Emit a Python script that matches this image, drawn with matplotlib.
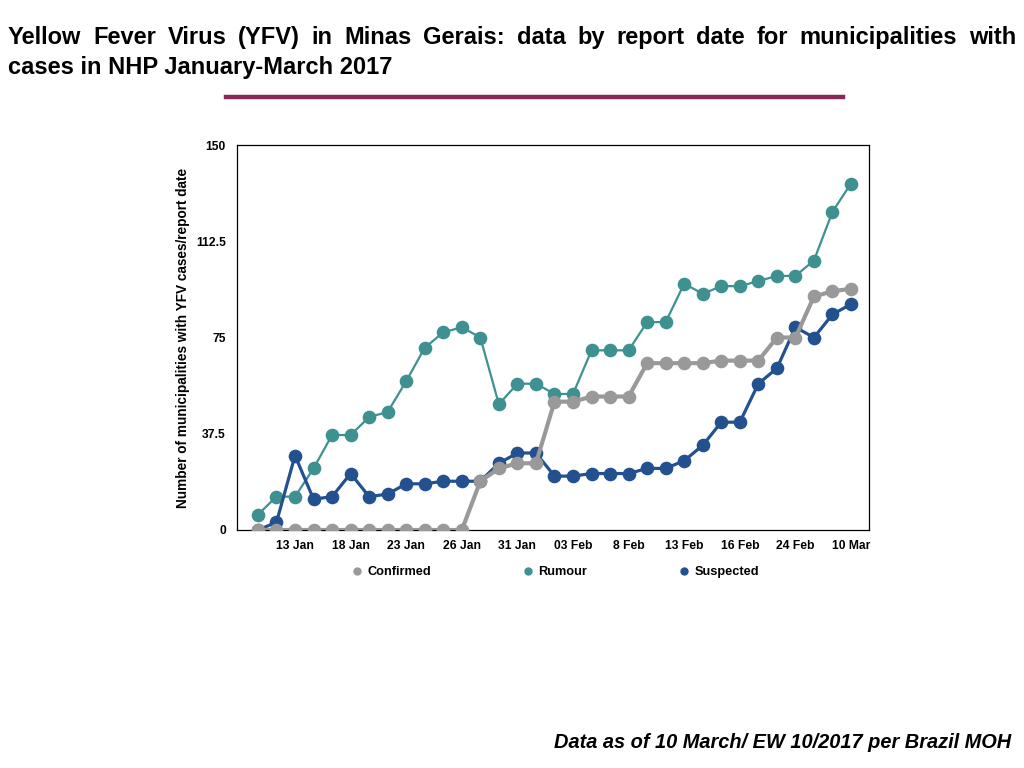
import matplotlib
matplotlib.use("Agg")
import matplotlib.pyplot as plt
from matplotlib.lines import Line2D

plt.rcParams['font.family'] = ['Liberation Sans', 'DejaVu Sans']

dates = ["11 Jan", "12 Jan", "13 Jan", "16 Jan", "17 Jan", "18 Jan", "19 Jan", "20 Jan", "23 Jan",
         "24 Jan", "25 Jan", "26 Jan", "27 Jan", "30 Jan", "31 Jan", "01 Feb", "02 Feb", "03 Feb",
         "06 Feb", "07 Feb", "8 Feb", "9 Feb", "10 Feb", "13 Feb", "14 Feb", "15 Feb", "16 Feb",
         "17 Feb", "21 Feb", "24 Feb", "03 Mar", "08 Mar", "10 Mar"]
shown_labels = ["13 Jan", "18 Jan", "23 Jan", "26 Jan", "31 Jan", "03 Feb", "8 Feb",
                "13 Feb", "16 Feb", "24 Feb", "10 Mar"]

confirmed = [0, 0, 0, 0, 0, 0, 0, 0, 0, 0, 0, 0, 19, 24, 26, 26, 50, 50, 52, 52, 52,
             65, 65, 65, 65, 66, 66, 66, 75, 75, 91, 93, 94]
rumour = [6, 13, 13, 24, 37, 37, 44, 46, 58, 71, 77, 79, 75, 49, 57, 57, 53, 53, 70, 70, 70,
          81, 81, 96, 92, 95, 95, 97, 99, 99, 105, 124, 135]
suspected = [0, 3, 29, 12, 13, 22, 13, 14, 18, 18, 19, 19, 19, 26, 30, 30, 21, 21, 22, 22, 22,
             24, 24, 27, 33, 42, 42, 57, 63, 79, 75, 84, 88]

yticks = [0, 37.5, 75, 112.5, 150]

c_conf = "#999999"
c_rum = "#3E9190"
c_sus = "#23518F"

W, H = 1024, 768
fig = plt.figure(figsize=(W / 100, H / 100), dpi=100)
ax = fig.add_axes([237 / W, (H - 530) / H, 632 / W, 385 / H])

x = list(range(len(dates)))
ax.plot(x, rumour, color=c_rum, lw=1.6, marker='o', ms=8.8, zorder=2)
ax.plot(x, suspected, color=c_sus, lw=2.3, marker='o', ms=8.8, zorder=3)
ax.plot(x, confirmed, color=c_conf, lw=3.0, marker='o', ms=8.8, zorder=4)

ax.set_xlim(-1.13, len(dates) - 1 + 0.97)
ax.set_ylim(0, 150)
ax.set_yticks(yticks)
ax.set_yticklabels(["0", "37.5", "75", "112.5", "150"], fontsize=8.7, fontweight='bold')
pos = [dates.index(l) for l in shown_labels]
ax.set_xticks(pos)
ax.set_xticklabels(shown_labels, fontsize=8.7, fontweight='bold')
ax.tick_params(axis='y', length=0, pad=8)
ax.tick_params(axis='x', length=0, pad=7)
for sp in ax.spines.values():
    sp.set_linewidth(0.9)
ax.set_ylabel("Number of municipalities with YFV cases/report date", fontsize=9.8,
              fontweight='bold', labelpad=4)

handles = [Line2D([], [], color=c_conf, marker='o', ls='none', ms=5),
           Line2D([], [], color=c_rum, marker='o', ls='none', ms=5),
           Line2D([], [], color=c_sus, marker='o', ls='none', ms=5)]
leg = fig.legend(handles, ["Confirmed", "Rumour", "Suspected"], loc='center',
                 bbox_to_anchor=(555 / W, (H - 572) / H), ncol=3, frameon=False,
                 prop={'weight': 'bold', 'size': 9.2}, columnspacing=7.1,
                 handletextpad=0.3, handlelength=1.0)

# Title (justified first line)
title1 = "Yellow Fever Virus (YFV) in Minas Gerais: data by report date for municipalities with"
title2 = "cases in NHP January-March 2017"
tfont = dict(fontsize=17, fontweight='bold')
fig.canvas.draw()
r = fig.canvas.get_renderer()
words = title1.split()
widths = []
texts = []
for w in words:
    t = fig.text(0, 0, w, **tfont)
    widths.append(t.get_window_extent(r).width)
    texts.append(t)
x0, x1 = 8, 1016
gap = (x1 - x0 - sum(widths)) / (len(words) - 1)
cx = x0
for t, wd in zip(texts, widths):
    t.set_position((cx / W, (H - 44) / H))
    t.set_va('baseline')
    cx += wd + gap
fig.text(x0 / W, (H - 74) / H, title2, va='baseline', **tfont)

fig.add_artist(Line2D([226 / W, 843 / W], [(H - 97) / H, (H - 97) / H],
                      color="#8A2754", lw=3.2, transform=fig.transFigure))

fig.text(1011 / W, (H - 748) / H, "Data as of 10 March/ EW 10/2017 per Brazil MOH",
         ha='right', va='baseline', fontsize=14.4, fontweight='bold', fontstyle='italic')

fig.savefig("out.png", dpi=100)
